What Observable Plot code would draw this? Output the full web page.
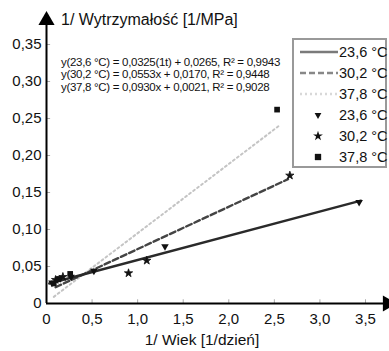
<!DOCTYPE html>
<html>
<head>
<meta charset="utf-8">
<script src="https://cdn.jsdelivr.net/npm/d3@7"></script>
<script src="https://cdn.jsdelivr.net/npm/@observablehq/plot@0.6"></script>
<style>
  html, body { margin: 0; padding: 0; background: #fff; }
  svg { font-family: "Liberation Sans", Arial, sans-serif; }
</style>
</head>
<body>
<div id="chart"></div>
<script>
// ---- data ----
const xTicks = [0, 0.5, 1.0, 1.5, 2.0, 2.5, 3.0, 3.5];
const xTickLabels = ["0", "0,5", "1,0", "1,5", "2,0", "2,5", "3,0", "3,5"];
const yTicks = [0, 0.05, 0.10, 0.15, 0.20, 0.25, 0.30, 0.35];
const yTickLabels = ["0", "0,05", "0,10", "0,15", "0,20", "0,25", "0,30", "0,35"];

const seriesNames = ["23,6 °C", "30,2 °C", "37,8 °C"];

// measured points
const t236X = [0.06, 0.15, 0.27, 0.52, 1.30, 3.43];
const t236Y = [0.028, 0.034, 0.036, 0.044, 0.077, 0.137];
const t302X = [0.10, 0.18, 0.90, 1.10, 2.67];
const t302Y = [0.032, 0.036, 0.041, 0.058, 0.173];
const t378X = [0.08, 0.13, 0.26, 2.53];
const t378Y = [0.027, 0.033, 0.040, 0.262];

// trend lines (end points)
const trend236X = [0.03, 3.45];
const trend236Y = [0.027, 0.139];
const trend302X = [0.10, 2.65];
const trend302Y = [0.022, 0.168];
const trend378X = [0.08, 2.55];
const trend378Y = [0.009, 0.240];

const equations = [
  "y(23,6 °C) = 0,0325(1t) + 0,0265, R² = 0,9943",
  "y(30,2 °C) = 0,0553x + 0,0170, R² = 0,9448",
  "y(37,8 °C) = 0,0930x + 0,0021, R² = 0,9028"
];
const xTitle = "1/ Wiek [1/dzień]";
const yTitle = "1/ Wytrzymałość [1/MPa]";

// ---- build tables ----
const pts = (xs, ys) => xs.map((x, i) => ({x, y: ys[i]}));
const p236 = pts(t236X, t236Y), p302 = pts(t302X, t302Y), p378 = pts(t378X, t378Y);
const l236 = pts(trend236X, trend236Y), l302 = pts(trend302X, trend302Y), l378 = pts(trend378X, trend378Y);

const lineStyles = [
  {stroke: "#2a2a2a", strokeWidth: 2.4, strokeDasharray: null, legendStroke: "#7a7a7a"},
  {stroke: "#444", strokeWidth: 2.4, strokeDasharray: "6,3", legendStroke: "#888"},
  {stroke: "#c4c4c4", strokeWidth: 2, strokeDasharray: "2,3", legendStroke: "#d8d8d8"}
];

const plot = Plot.plot({
  width: 389,
  height: 351,
  marginLeft: 46,
  marginRight: 24,
  marginTop: 44,
  marginBottom: 48,
  x: {domain: [0, 3.5]},
  y: {domain: [0, 0.35]},
  style: {fontFamily: "Liberation Sans, Arial, sans-serif", background: "#fff"},
  marks: [
    Plot.axisX({ticks: xTicks, tickFormat: (d) => xTickLabels[xTicks.indexOf(d)], tickSize: 0, tickPadding: 10, fontSize: 15, fill: "#111", label: null}),
    Plot.axisY({ticks: yTicks, tickFormat: (d) => yTickLabels[yTicks.findIndex(t => Math.abs(t - d) < 1e-9)], tickSize: 0, tickPadding: 5, fontSize: 15, fill: "#111", label: null}),
    // inward tick marks
    Plot.ruleX(xTicks.slice(1), {y1: 0, y2: 0.005, stroke: "#aaa", strokeWidth: 1}),
    Plot.ruleY(yTicks.slice(1), {x1: 0, x2: 0.045, stroke: "#aaa", strokeWidth: 1}),
    // trend lines
    Plot.line(l378, {x: "x", y: "y", stroke: lineStyles[2].stroke, strokeWidth: lineStyles[2].strokeWidth, strokeDasharray: lineStyles[2].strokeDasharray}),
    Plot.line(l302, {x: "x", y: "y", stroke: lineStyles[1].stroke, strokeWidth: lineStyles[1].strokeWidth, strokeDasharray: lineStyles[1].strokeDasharray}),
    Plot.line(l236, {x: "x", y: "y", stroke: lineStyles[0].stroke, strokeWidth: lineStyles[0].strokeWidth}),
    // points
    Plot.dot(p236, {x: "x", y: "y", symbol: "triangle", rotate: 180, r: 2.8, fill: "#111", stroke: "none"}),
    Plot.dot(p302, {x: "x", y: "y", symbol: "star", r: 2.6, fill: "#111", stroke: "#111", strokeWidth: 0.8}),
    Plot.dot(p378, {x: "x", y: "y", symbol: "square", r: 3.2, fill: "#111", stroke: "none"}),
    // axes lines
    Plot.ruleY([0], {x1: 0, x2: 3.72, stroke: "#000", strokeWidth: 2}),
    Plot.ruleX([0], {y1: 0, y2: 0.38, stroke: "#000", strokeWidth: 2}),
    Plot.dot([{x: 3.72, y: 0}], {x: "x", y: "y", symbol: "triangle", rotate: 90, r: 6, fill: "#000", stroke: "none", dx: 2}),
    Plot.dot([{x: 0, y: 0.38}], {x: "x", y: "y", symbol: "triangle", r: 6, fill: "#000", stroke: "none", dy: -2})
  ]
});

const svg = d3.select(plot);

// titles
svg.append("text").attr("x", 61).attr("y", 25).attr("text-anchor", "start").attr("font-size", 16).attr("fill", "#111").text(yTitle);
svg.append("text").attr("x", 202).attr("y", 345).attr("text-anchor", "middle").attr("font-size", 15.5).attr("fill", "#111").text(xTitle);

// equations
equations.forEach((e, i) => {
  svg.append("text").attr("x", 61).attr("y", 66 + i * 12.3).attr("text-anchor", "start").attr("font-size", 11.5).attr("letter-spacing", -0.3).attr("fill", "#111").text(e);
});

// legend
const lg = svg.append("g").attr("text-anchor", "start");
lg.append("rect").attr("x", 293).attr("y", 39).attr("width", 93).attr("height", 128)
  .attr("fill", "#fff").attr("stroke", "#999").attr("stroke-width", 2);
const rowY = [52, 73, 94, 115, 136, 157];
seriesNames.forEach((n, i) => {
  const y = rowY[i];
  lg.append("line").attr("x1", 300).attr("x2", 338).attr("y1", y).attr("y2", y)
    .attr("stroke", lineStyles[i].legendStroke).attr("stroke-width", 2.6)
    .attr("stroke-dasharray", lineStyles[i].strokeDasharray);
  lg.append("text").attr("x", 339).attr("y", y + 5).attr("font-size", 14.5).attr("fill", "#111").text(n);
});
const symbols = [d3.symbolTriangle, d3.symbolStar, d3.symbolSquare];
const symSizes = [20, 30, 40];
seriesNames.forEach((n, i) => {
  const y = rowY[3 + i];
  lg.append("path").attr("d", d3.symbol(symbols[i], symSizes[i])())
    .attr("transform", `translate(318,${y})` + (i === 0 ? " rotate(180)" : ""))
    .attr("fill", "#111");
  lg.append("text").attr("x", 339).attr("y", y + 5).attr("font-size", 14.5).attr("fill", "#111").text(n);
});

document.getElementById("chart").appendChild(plot);
</script>
</body>
</html>
